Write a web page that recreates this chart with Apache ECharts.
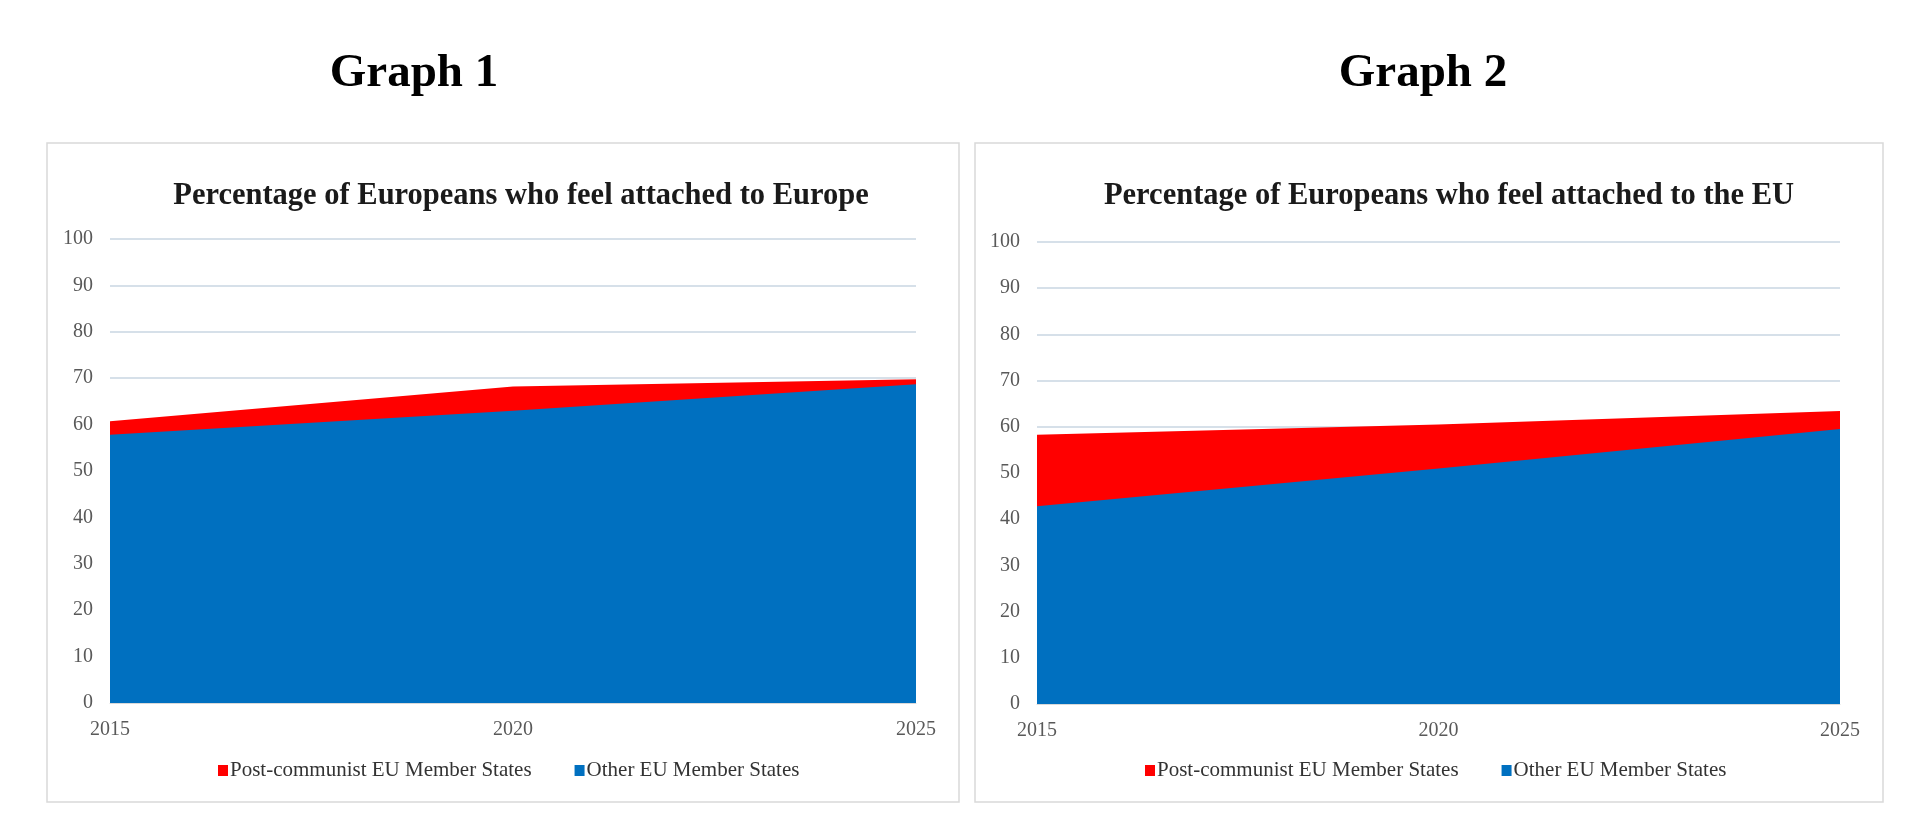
<!DOCTYPE html>
<html>
<head>
<meta charset="utf-8">
<script src="https://cdn.jsdelivr.net/npm/echarts@6/dist/echarts.min.js"></script>
<style>
  html, body { margin: 0; padding: 0; background: #fff; }
  #chart { width: 1927px; height: 836px; }
</style>
</head>
<body>
<div id="chart"></div>
<script>
// ---- data ----
const years = ['2015', '2020', '2025'];
const europePostCommunist = [60.7, 68.2, 69.8];
const europeOther = [57.8, 63.0, 68.7];
const euPostCommunist = [58.3, 60.5, 63.4];
const euOther = [42.8, 51.0, 59.5];
const yTicks = { min: 0, max: 100, interval: 10 };
const seriesNames = ['Post-communist EU Member States', 'Other EU Member States'];
const graphLabels = ['Graph 1', 'Graph 2'];
const chartTitles = ['Percentage of Europeans who feel attached to Europe', 'Percentage of Europeans who feel attached to the EU'];

const RED = '#FF0000';
const BLUE = '#0070C0';
const FONT = 'Liberation Serif';

const chart = echarts.init(document.getElementById('chart'));

function yAxis(gi) {
  return {
    type: 'value', gridIndex: gi,
    min: yTicks.min, max: yTicks.max, interval: yTicks.interval,
    axisLine: { show: false }, axisTick: { show: false },
    axisLabel: { color: '#595959', fontFamily: FONT, fontSize: 20, margin: 17 },
    splitLine: { lineStyle: { color: '#C8D6E2', width: 1.5 } }
  };
}
function xAxis(gi) {
  return {
    type: 'category', gridIndex: gi, data: years, boundaryGap: false,
    axisLine: { show: true, lineStyle: { color: '#D9D9D9' } },
    axisTick: { show: false },
    axisLabel: { color: '#595959', fontFamily: FONT, fontSize: 20, margin: 17 },
    splitLine: { show: false }
  };
}
function area(name, data, color, gi) {
  return {
    name, type: 'line', data, xAxisIndex: gi, yAxisIndex: gi,
    symbol: 'none', lineStyle: { width: 0 }, itemStyle: { color },
    areaStyle: { color, opacity: 1 }, silent: true, animation: false
  };
}
function legend(left) {
  return {
    left, top: 755, icon: 'rect', itemWidth: 10, itemHeight: 11, itemGap: 43,
    data: seriesNames, selectedMode: false,
    textStyle: { fontFamily: FONT, fontSize: 21, color: '#333', padding: [0, 0, 0, -3] }
  };
}

const option = {
  backgroundColor: '#fff',
  animation: false,
  graphic: [
    { type: 'rect', shape: { x: 47, y: 143, width: 912, height: 659 }, style: { fill: 'none', stroke: '#D9D9D9', lineWidth: 1.5 }, z: -10 },
    { type: 'rect', shape: { x: 975, y: 143, width: 908, height: 659 }, style: { fill: 'none', stroke: '#D9D9D9', lineWidth: 1.5 }, z: -10 }
  ],
  title: [
    { text: graphLabels[0], left: 409, top: 45, textAlign: 'center', textStyle: { fontFamily: FONT, fontWeight: 'bold', fontSize: 47, color: '#000' } },
    { text: graphLabels[1], left: 1418, top: 45, textAlign: 'center', textStyle: { fontFamily: FONT, fontWeight: 'bold', fontSize: 47, color: '#000' } },
    { text: chartTitles[0], left: 516, top: 176, textAlign: 'center', textStyle: { fontFamily: FONT, fontWeight: 'bold', fontSize: 30.5, color: '#1a1a1a' } },
    { text: chartTitles[1], left: 1444, top: 176, textAlign: 'center', textStyle: { fontFamily: FONT, fontWeight: 'bold', fontSize: 30.5, color: '#1a1a1a' } }
  ],
  legend: [legend(213), legend(1140)],
  grid: [
    { left: 110, right: 1927 - 916, top: 239, bottom: 836 - 703 },
    { left: 1037, right: 1927 - 1840, top: 242, bottom: 836 - 704 }
  ],
  xAxis: [xAxis(0), xAxis(1)],
  yAxis: [yAxis(0), yAxis(1)],
  series: [
    area(seriesNames[0], europePostCommunist, RED, 0),
    area(seriesNames[1], europeOther, BLUE, 0),
    area(seriesNames[0], euPostCommunist, RED, 1),
    area(seriesNames[1], euOther, BLUE, 1)
  ]
};
chart.setOption(option);
</script>
</body>
</html>
